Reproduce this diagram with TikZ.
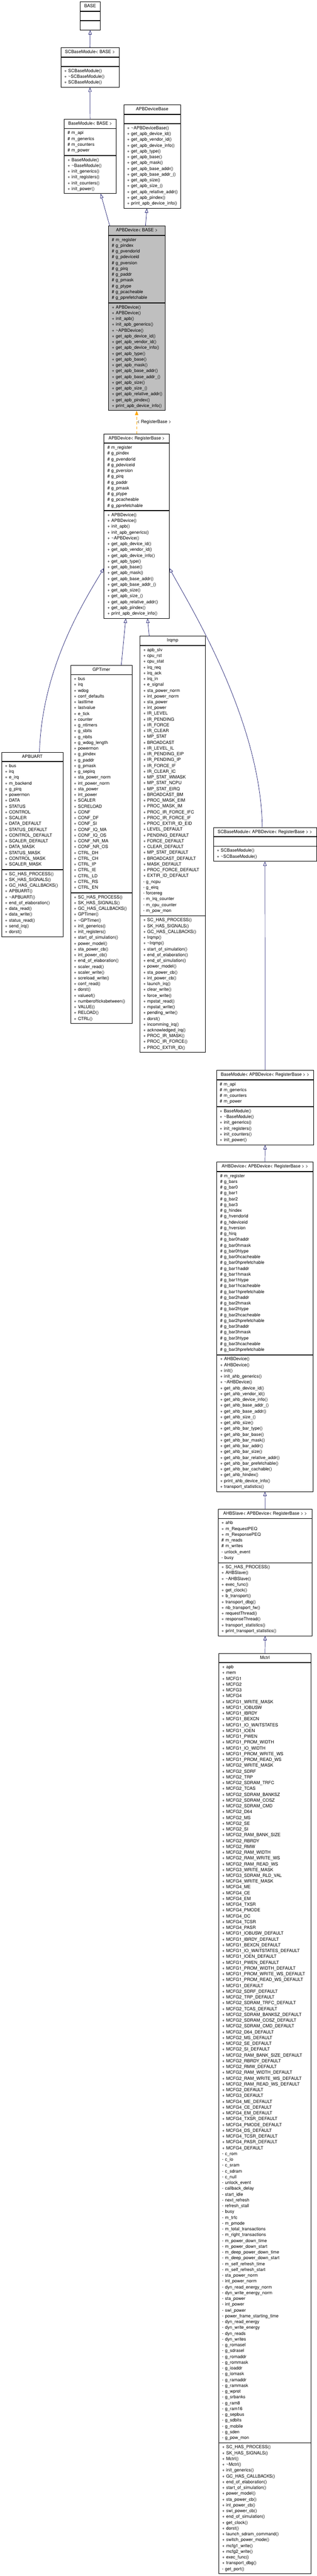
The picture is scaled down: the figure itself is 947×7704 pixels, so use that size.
\documentclass[tikz,border=0pt]{standalone}
\usepackage{fontspec}
\setmainfont{TeX Gyre Heros}
\usepackage{tikz}
\usetikzlibrary{positioning,arrows.meta}

\definecolor{edgeblue}{HTML}{191970}
\definecolor{tmplorange}{HTML}{FFA500}
\newcommand{\tld}{\textasciitilde}
\hyphenpenalty=10000
\exhyphenpenalty=10000

\begin{document}
\begin{tikzpicture}[x=1pt,y=-1pt,
  clstitle/.style={draw, line width=1.2pt, fill=white, minimum width=#1, inner xsep=2pt, inner ysep=4.9pt, anchor=north,
    font=\fontsize{13.2}{17.33}\selectfont, execute at begin node=\strut},
  clsbody/.style={draw, line width=1.2pt, fill=white, text width=#1, align=left, inner xsep=10pt, inner ysep=4.9pt, anchor=north,
    font=\fontsize{13.2}{17.33}\selectfont, execute at begin node=\strut, execute at end node=\strut},
  inherit/.style={draw=edgeblue, line width=1.1pt, -{Triangle[open, length=13pt, width=10pt]}},
  tmplarrow/.style={draw=tmplorange, line width=1.1pt, dash pattern=on 8pt off 6pt, -{Triangle[length=13pt, width=10pt]}}
]

\fill[white] (0,0) rectangle (947,7704);
\useasboundingbox (0,0) rectangle (947,7704);

% top of the hierarchy
\node[clstitle=59pt] (base) at (269.5,5) {BASE};
\node[clsbody=39pt, below=0pt of base] (base-a) {};
\node[clsbody=39pt, below=0pt of base-a] (base-m) {};

\node[clstitle=174pt] (scbase) at (269,142) {SCBaseModule< BASE >};
\node[clsbody=154pt, below=0pt of scbase] (scbase-a) {};
\node[clsbody=154pt, below=0pt of scbase-a] (scbase-m) {+~SCBaseModule()\\+~\tld SCBaseModule()\\+~SCBaseModule()};

\node[clstitle=155pt] (basemod) at (269.5,356) {BaseModule< BASE >};
\node[clsbody=135pt, below=0pt of basemod] (basemod-a) {\#~m\_api\\\#~m\_generics\\\#~m\_counters\\\#~m\_power};
\node[clsbody=135pt, below=0pt of basemod-a] (basemod-m) {+~BaseModule()\\+~\tld BaseModule()\\+~init\_generics()\\+~init\_registers()\\+~init\_counters()\\+~init\_power()};

\node[clstitle=170pt] (apbdevbase) at (455,313) {APBDeviceBase};
\node[clsbody=150pt, below=0pt of apbdevbase] (apbdevbase-a) {};
\node[clsbody=150pt, below=0pt of apbdevbase-a] (apbdevbase-m) {+~\tld APBDeviceBase()\\+~get\_apb\_device\_id()\\+~get\_apb\_vendor\_id()\\+~get\_apb\_device\_info()\\+~get\_apb\_type()\\+~get\_apb\_base()\\+~get\_apb\_mask()\\+~get\_apb\_base\_addr()\\+~get\_apb\_base\_addr\_()\\+~get\_apb\_size()\\+~get\_apb\_size\_()\\+~get\_apb\_relative\_addr()\\+~get\_apb\_pindex()\\+~print\_apb\_device\_info()};

% the class itself
\node[clstitle=170pt, fill=black!25] (apbdev) at (409,675.5) {APBDevice< BASE >};
\node[clsbody=150pt, fill=black!25, below=0pt of apbdev] (apbdev-a) {\#~m\_register\\\#~g\_pindex\\\#~g\_pvendorid\\\#~g\_pdeviceid\\\#~g\_pversion\\\#~g\_pirq\\\#~g\_paddr\\\#~g\_pmask\\\#~g\_ptype\\\#~g\_pcacheable\\\#~g\_pprefetchable};
\node[clsbody=150pt, fill=black!25, below=0pt of apbdev-a] (apbdev-m) {+~APBDevice()\\+~APBDevice()\\+~init\_apb()\\+~init\_apb\_generics()\\+~\tld APBDevice()\\+~get\_apb\_device\_id()\\+~get\_apb\_vendor\_id()\\+~get\_apb\_device\_info()\\+~get\_apb\_type()\\+~get\_apb\_base()\\+~get\_apb\_mask()\\+~get\_apb\_base\_addr()\\+~get\_apb\_base\_addr\_()\\+~get\_apb\_size()\\+~get\_apb\_size\_()\\+~get\_apb\_relative\_addr()\\+~get\_apb\_pindex()\\+~print\_apb\_device\_info()};

\node[clstitle=195pt] (apbdevrb) at (408.5,1297) {APBDevice< RegisterBase >};
\node[clsbody=175pt, below=0pt of apbdevrb] (apbdevrb-a) {\#~m\_register\\\#~g\_pindex\\\#~g\_pvendorid\\\#~g\_pdeviceid\\\#~g\_pversion\\\#~g\_pirq\\\#~g\_paddr\\\#~g\_pmask\\\#~g\_ptype\\\#~g\_pcacheable\\\#~g\_pprefetchable};
\node[clsbody=175pt, below=0pt of apbdevrb-a] (apbdevrb-m) {+~APBDevice()\\+~APBDevice()\\+~init\_apb()\\+~init\_apb\_generics()\\+~\tld APBDevice()\\+~get\_apb\_device\_id()\\+~get\_apb\_vendor\_id()\\+~get\_apb\_device\_info()\\+~get\_apb\_type()\\+~get\_apb\_base()\\+~get\_apb\_mask()\\+~get\_apb\_base\_addr()\\+~get\_apb\_base\_addr\_()\\+~get\_apb\_size()\\+~get\_apb\_size\_()\\+~get\_apb\_relative\_addr()\\+~get\_apb\_pindex()\\+~print\_apb\_device\_info()};

% derived devices
\node[clstitle=183pt] (apbuart) at (96.5,2249) {APBUART};
\node[clsbody=163pt, below=0pt of apbuart] (apbuart-a) {+~bus\\+~irq\\+~e\_irq\\+~m\_backend\\+~g\_pirq\\+~powermon\\+~DATA\\+~STATUS\\+~CONTROL\\+~SCALER\\+~DATA\_DEFAULT\\+~STATUS\_DEFAULT\\+~CONTROL\_DEFAULT\\+~SCALER\_DEFAULT\\+~DATA\_MASK\\+~STATUS\_MASK\\+~CONTROL\_MASK\\+~SCALER\_MASK};
\node[clsbody=163pt, below=0pt of apbuart-a] (apbuart-m) {+~SC\_HAS\_PROCESS()\\+~SK\_HAS\_SIGNALS()\\+~GC\_HAS\_CALLBACKS()\\+~APBUART()\\+~\tld APBUART()\\+~end\_of\_elaboration()\\+~data\_read()\\+~data\_write()\\+~status\_read()\\+~send\_irq()\\+~dorst()};

\node[clstitle=184pt] (gptimer) at (303,1989) {GPTimer};
\node[clsbody=164pt, below=0pt of gptimer] (gptimer-a) {+~bus\\+~irq\\+~wdog\\+~conf\_defaults\\+~lasttime\\+~lastvalue\\+~e\_tick\\+~counter\\+~g\_ntimers\\+~g\_sbits\\+~g\_nbits\\+~g\_wdog\_length\\+~powermon\\+~g\_pindex\\+~g\_paddr\\+~g\_pmask\\+~g\_sepirq\\+~sta\_power\_norm\\+~int\_power\_norm\\+~sta\_power\\+~int\_power\\+~SCALER\\+~SCRELOAD\\+~CONF\\+~CONF\_DF\\+~CONF\_SI\\+~CONF\_IQ\_MA\\+~CONF\_IQ\_OS\\+~CONF\_NR\_MA\\+~CONF\_NR\_OS\\+~CTRL\_DH\\+~CTRL\_CH\\+~CTRL\_IP\\+~CTRL\_IE\\+~CTRL\_LD\\+~CTRL\_RS\\+~CTRL\_EN};
\node[clsbody=164pt, below=0pt of gptimer-a] (gptimer-m) {+~SC\_HAS\_PROCESS()\\+~SK\_HAS\_SIGNALS()\\+~GC\_HAS\_CALLBACKS()\\+~GPTimer()\\+~\tld GPTimer()\\+~init\_generics()\\+~init\_registers()\\+~start\_of\_simulation()\\+~power\_model()\\+~sta\_power\_cb()\\+~int\_power\_cb()\\+~end\_of\_elaboration()\\+~scaler\_read()\\+~scaler\_write()\\+~screload\_write()\\+~conf\_read()\\+~dorst()\\+~valueof()\\+~numberofticksbetween()\\+~VALUE()\\+~RELOAD()\\+~CTRL()};

\node[clstitle=196pt] (irqmp) at (516,1902) {Irqmp};
\node[clsbody=176pt, below=0pt of irqmp] (irqmp-a) {+~apb\_slv\\+~cpu\_rst\\+~cpu\_stat\\+~irq\_req\\+~irq\_ack\\+~irq\_in\\+~e\_signal\\+~sta\_power\_norm\\+~int\_power\_norm\\+~sta\_power\\+~int\_power\\+~IR\_LEVEL\\+~IR\_PENDING\\+~IR\_FORCE\\+~IR\_CLEAR\\+~MP\_STAT\\+~BROADCAST\\+~IR\_LEVEL\_IL\\+~IR\_PENDING\_EIP\\+~IR\_PENDING\_IP\\+~IR\_FORCE\_IF\\+~IR\_CLEAR\_IC\\+~MP\_STAT\_WMASK\\+~MP\_STAT\_NCPU\\+~MP\_STAT\_EIRQ\\+~BROADCAST\_BM\\+~PROC\_MASK\_EIM\\+~PROC\_MASK\_IM\\+~PROC\_IR\_FORCE\_IFC\\+~PROC\_IR\_FORCE\_IF\\+~PROC\_EXTIR\_ID\_EID\\+~LEVEL\_DEFAULT\\+~PENDING\_DEFAULT\\+~FORCE\_DEFAULT\\+~CLEAR\_DEFAULT\\+~MP\_STAT\_DEFAULT\\+~BROADCAST\_DEFAULT\\+~MASK\_DEFAULT\\+~PROC\_FORCE\_DEFAULT\\+~EXTIR\_ID\_DEFAULT\\-~g\_ncpu\\-~g\_eirq\\-~forcereg\\-~m\_irq\_counter\\-~m\_cpu\_counter\\-~m\_pow\_mon};
\node[clsbody=176pt, below=0pt of irqmp-a] (irqmp-m) {+~SC\_HAS\_PROCESS()\\+~SK\_HAS\_SIGNALS()\\+~GC\_HAS\_CALLBACKS()\\+~Irqmp()\\+~\tld Irqmp()\\+~start\_of\_simulation()\\+~end\_of\_elaboration()\\+~end\_of\_simulation()\\+~power\_model()\\+~sta\_power\_cb()\\+~int\_power\_cb()\\+~launch\_irq()\\+~clear\_write()\\+~force\_write()\\+~mpstat\_read()\\+~mpstat\_write()\\+~pending\_write()\\+~dorst()\\+~incomming\_irq()\\+~acknowledged\_irq()\\+~PROC\_IR\_MASK()\\+~PROC\_IR\_FORCE()\\+~PROC\_EXTIR\_ID()};

% right branch down to Mctrl
\node[clstitle=308pt] (scbaseapb) at (792,2474) {SCBaseModule< APBDevice< RegisterBase > >};
\node[clsbody=288pt, below=0pt of scbaseapb] (scbaseapb-a) {};
\node[clsbody=288pt, below=0pt of scbaseapb-a] (scbaseapb-m) {+~SCBaseModule()\\+~\tld SCBaseModule()};

\node[clstitle=291pt] (basemodapb) at (792.5,3200.7) {BaseModule< APBDevice< RegisterBase > >};
\node[clsbody=271pt, below=0pt of basemodapb] (basemodapb-a) {\#~m\_api\\\#~m\_generics\\\#~m\_counters\\\#~m\_power};
\node[clsbody=271pt, below=0pt of basemodapb-a] (basemodapb-m) {+~BaseModule()\\+~\tld BaseModule()\\+~init\_generics()\\+~init\_registers()\\+~init\_counters()\\+~init\_power()};

\node[clstitle=288pt] (ahbdev) at (792,3475) {AHBDevice< APBDevice< RegisterBase > >};
\node[clsbody=268pt, below=0pt of ahbdev] (ahbdev-a) {\#~m\_register\\\#~g\_bars\\\#~g\_bar0\\\#~g\_bar1\\\#~g\_bar2\\\#~g\_bar3\\\#~g\_hindex\\\#~g\_hvendorid\\\#~g\_hdeviceid\\\#~g\_hversion\\\#~g\_hirq\\\#~g\_bar0haddr\\\#~g\_bar0hmask\\\#~g\_bar0htype\\\#~g\_bar0hcacheable\\\#~g\_bar0hprefetchable\\\#~g\_bar1haddr\\\#~g\_bar1hmask\\\#~g\_bar1htype\\\#~g\_bar1hcacheable\\\#~g\_bar1hprefetchable\\\#~g\_bar2haddr\\\#~g\_bar2hmask\\\#~g\_bar2htype\\\#~g\_bar2hcacheable\\\#~g\_bar2hprefetchable\\\#~g\_bar3haddr\\\#~g\_bar3hmask\\\#~g\_bar3htype\\\#~g\_bar3hcacheable\\\#~g\_bar3hprefetchable};
\node[clsbody=268pt, below=0pt of ahbdev-a] (ahbdev-m) {+~AHBDevice()\\+~AHBDevice()\\+~init()\\+~init\_ahb\_generics()\\+~\tld AHBDevice()\\+~get\_ahb\_device\_id()\\+~get\_ahb\_vendor\_id()\\+~get\_ahb\_device\_info()\\+~get\_ahb\_base\_addr\_()\\+~get\_ahb\_base\_addr()\\+~get\_ahb\_size\_()\\+~get\_ahb\_size()\\+~get\_ahb\_bar\_type()\\+~get\_ahb\_bar\_base()\\+~get\_ahb\_bar\_mask()\\+~get\_ahb\_bar\_addr()\\+~get\_ahb\_bar\_size()\\+~get\_ahb\_bar\_relative\_addr()\\+~get\_ahb\_bar\_prefetchable()\\+~get\_ahb\_bar\_cachable()\\+~get\_ahb\_hindex()\\+~print\_ahb\_device\_info()\\+~transport\_statistics()};

\node[clstitle=281pt] (ahbslave) at (792.5,4513) {AHBSlave< APBDevice< RegisterBase > >};
\node[clsbody=261pt, below=0pt of ahbslave] (ahbslave-a) {+~ahb\\+~m\_RequestPEQ\\+~m\_ResponsePEQ\\\#~m\_reads\\\#~m\_writes\\-~unlock\_event\\-~busy};
\node[clsbody=261pt, below=0pt of ahbslave-a] (ahbslave-m) {+~SC\_HAS\_PROCESS()\\+~AHBSlave()\\+~\tld AHBSlave()\\+~exec\_func()\\+~get\_clock()\\+~b\_transport()\\+~transport\_dbg()\\+~nb\_transport\_fw()\\+~requestThread()\\+~responseThread()\\+~transport\_statistics()\\+~print\_transport\_statistics()};

\node[clstitle=276pt] (mctrl) at (792,4944) {Mctrl};
\node[clsbody=256pt, below=0pt of mctrl] (mctrl-a) {+~apb\\+~mem\\+~MCFG1\\+~MCFG2\\+~MCFG3\\+~MCFG4\\+~MCFG1\_WRITE\_MASK\\+~MCFG1\_IOBUSW\\+~MCFG1\_IBRDY\\+~MCFG1\_BEXCN\\+~MCFG1\_IO\_WAITSTATES\\+~MCFG1\_IOEN\\+~MCFG1\_PWEN\\+~MCFG1\_PROM\_WIDTH\\+~MCFG1\_IO\_WIDTH\\+~MCFG1\_PROM\_WRITE\_WS\\+~MCFG1\_PROM\_READ\_WS\\+~MCFG2\_WRITE\_MASK\\+~MCFG2\_SDRF\\+~MCFG2\_TRP\\+~MCFG2\_SDRAM\_TRFC\\+~MCFG2\_TCAS\\+~MCFG2\_SDRAM\_BANKSZ\\+~MCFG2\_SDRAM\_COSZ\\+~MCFG2\_SDRAM\_CMD\\+~MCFG2\_D64\\+~MCFG2\_MS\\+~MCFG2\_SE\\+~MCFG2\_SI\\+~MCFG2\_RAM\_BANK\_SIZE\\+~MCFG2\_RBRDY\\+~MCFG2\_RMW\\+~MCFG2\_RAM\_WIDTH\\+~MCFG2\_RAM\_WRITE\_WS\\+~MCFG2\_RAM\_READ\_WS\\+~MCFG3\_WRITE\_MASK\\+~MCFG3\_SDRAM\_RLD\_VAL\\+~MCFG4\_WRITE\_MASK\\+~MCFG4\_ME\\+~MCFG4\_CE\\+~MCFG4\_EM\\+~MCFG4\_TXSR\\+~MCFG4\_PMODE\\+~MCFG4\_DC\\+~MCFG4\_TCSR\\+~MCFG4\_PASR\\+~MCFG1\_IOBUSW\_DEFAULT\\+~MCFG1\_IBRDY\_DEFAULT\\+~MCFG1\_BEXCN\_DEFAULT\\+~MCFG1\_IO\_WAITSTATES\_DEFAULT\\+~MCFG1\_IOEN\_DEFAULT\\+~MCFG1\_PWEN\_DEFAULT\\+~MCFG1\_PROM\_WIDTH\_DEFAULT\\+~MCFG1\_PROM\_WRITE\_WS\_DEFAULT\\+~MCFG1\_PROM\_READ\_WS\_DEFAULT\\+~MCFG1\_DEFAULT\\+~MCFG2\_SDRF\_DEFAULT\\+~MCFG2\_TRP\_DEFAULT\\+~MCFG2\_SDRAM\_TRFC\_DEFAULT\\+~MCFG2\_TCAS\_DEFAULT\\+~MCFG2\_SDRAM\_BANKSZ\_DEFAULT\\+~MCFG2\_SDRAM\_COSZ\_DEFAULT\\+~MCFG2\_SDRAM\_CMD\_DEFAULT\\+~MCFG2\_D64\_DEFAULT\\+~MCFG2\_MS\_DEFAULT\\+~MCFG2\_SE\_DEFAULT\\+~MCFG2\_SI\_DEFAULT\\+~MCFG2\_RAM\_BANK\_SIZE\_DEFAULT\\+~MCFG2\_RBRDY\_DEFAULT\\+~MCFG2\_RMW\_DEFAULT\\+~MCFG2\_RAM\_WIDTH\_DEFAULT\\+~MCFG2\_RAM\_WRITE\_WS\_DEFAULT\\+~MCFG2\_RAM\_READ\_WS\_DEFAULT\\+~MCFG2\_DEFAULT\\+~MCFG3\_DEFAULT\\+~MCFG4\_ME\_DEFAULT\\+~MCFG4\_CE\_DEFAULT\\+~MCFG4\_EM\_DEFAULT\\+~MCFG4\_TXSR\_DEFAULT\\+~MCFG4\_PMODE\_DEFAULT\\+~MCFG4\_DS\_DEFAULT\\+~MCFG4\_TCSR\_DEFAULT\\+~MCFG4\_PASR\_DEFAULT\\+~MCFG4\_DEFAULT\\-~c\_rom\\-~c\_io\\-~c\_sram\\-~c\_sdram\\-~c\_null\\-~unlock\_event\\-~callback\_delay\\-~start\_idle\\-~next\_refresh\\-~refresh\_stall\\-~busy\\-~m\_trfc\\-~m\_pmode\\-~m\_total\_transactions\\-~m\_right\_transactions\\-~m\_power\_down\_time\\-~m\_power\_down\_start\\-~m\_deep\_power\_down\_time\\-~m\_deep\_power\_down\_start\\-~m\_self\_refresh\_time\\-~m\_self\_refresh\_start\\-~sta\_power\_norm\\-~int\_power\_norm\\-~dyn\_read\_energy\_norm\\-~dyn\_write\_energy\_norm\\-~sta\_power\\-~int\_power\\-~swi\_power\\-~power\_frame\_starting\_time\\-~dyn\_read\_energy\\-~dyn\_write\_energy\\-~dyn\_reads\\-~dyn\_writes\\-~g\_romasel\\-~g\_sdrasel\\-~g\_romaddr\\-~g\_rommask\\-~g\_ioaddr\\-~g\_iomask\\-~g\_ramaddr\\-~g\_rammask\\-~g\_wprot\\-~g\_srbanks\\-~g\_ram8\\-~g\_ram16\\-~g\_sepbus\\-~g\_sdbits\\-~g\_mobile\\-~g\_sden\\-~g\_pow\_mon};
\node[clsbody=256pt, below=0pt of mctrl-a] (mctrl-m) {+~SC\_HAS\_PROCESS()\\+~SK\_HAS\_SIGNALS()\\+~Mctrl()\\+~\tld Mctrl()\\+~init\_generics()\\+~GC\_HAS\_CALLBACKS()\\+~end\_of\_elaboration()\\+~start\_of\_simulation()\\+~power\_model()\\+~sta\_power\_cb()\\+~int\_power\_cb()\\+~swi\_power\_cb()\\+~end\_of\_simulation()\\+~get\_clock()\\+~dorst()\\+~launch\_sdram\_command()\\+~switch\_power\_mode()\\+~mcfg1\_write()\\+~mcfg2\_write()\\+~exec\_func()\\+~transport\_dbg()\\-~get\_port()};

% inheritance
\draw[inherit] (scbase.north) -- (base-m.south);
\draw[inherit] (basemod.north) -- (scbase-m.south);
\draw[inherit] ([xshift=-81pt]apbdev.north) -- ([xshift=31.5pt]basemod-m.south);
\draw[inherit] ([xshift=26pt]apbdev.north) -- ([xshift=-16pt]apbdevbase-m.south);
\draw[tmplarrow] (apbdevrb.north) -- node[midway, right, inner sep=1pt, font=\fontsize{13.2}{17.33}\selectfont] {< RegisterBase >} (apbdevrb.north |- apbdev-m.south);

\draw[inherit] ([xshift=21.5pt]apbuart.north) .. controls +(7,-249) and +(-61,101) .. ([yshift=-11pt]apbdevrb-m.west);
\draw[inherit] ([xshift=59.5pt]gptimer.north) -- ([xshift=-32.5pt]apbdevrb-m.south);
\draw[inherit] ([xshift=-70pt]irqmp.north) -- ([xshift=32.5pt]apbdevrb-m.south);
\draw[inherit] ([xshift=-8pt]scbaseapb.north) .. controls +(-4,-324) and +(54,101) .. ([yshift=-11pt]apbdevrb-m.east);

\draw[inherit] (basemodapb.north) -- (scbaseapb-m.south);
\draw[inherit] (ahbdev.north) -- (basemodapb-m.south);
\draw[inherit] (ahbslave.north) -- (ahbdev-m.south);
\draw[inherit] (mctrl.north) -- (ahbslave-m.south);

\end{tikzpicture}
\end{document}
